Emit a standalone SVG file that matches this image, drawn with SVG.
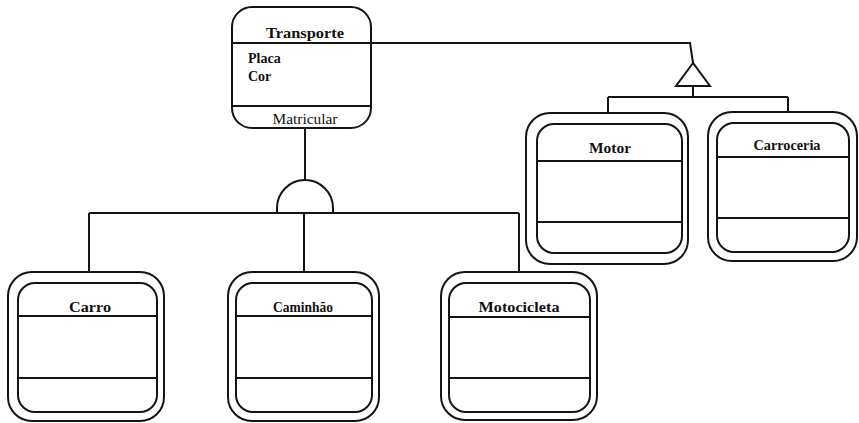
<svg xmlns="http://www.w3.org/2000/svg" width="859" height="423" viewBox="0 0 859 423">
  <style>
    .ln { fill: none; stroke: #141414; stroke-width: 2; }
    .box { fill: #fff; stroke: #141414; stroke-width: 2; }
    .title { font-family: "Liberation Serif", "Times New Roman", serif; font-weight: bold; font-size: 15px; fill: #111; text-anchor: middle; }
    .attr { font-family: "Liberation Serif", "Times New Roman", serif; font-weight: bold; font-size: 14px; fill: #111; }
    .op { font-family: "Liberation Serif", "Times New Roman", serif; font-size: 15px; fill: #111; text-anchor: middle; }
  </style>
  <rect width="859" height="423" fill="#fff"/>

  <!-- connectors -->
  <g id="connectors" class="ln">
    <!-- Transporte specialisation (dome) -->
    <line x1="305" y1="128" x2="305" y2="180"/>
    <path d="M277,213 L277,208 A28,28 0 0 1 333,208 L333,213"/>
    <line x1="89" y1="213" x2="519" y2="213"/>
    <line x1="89" y1="213" x2="89" y2="272"/>
    <line x1="304" y1="213" x2="304" y2="272"/>
    <line x1="519" y1="213" x2="519" y2="272"/>
    <!-- Transporte aggregation (triangle) -->
    <polyline points="371,43 690,43 693,63"/>
    <polygon points="693,63 676,86 710,86"/>
    <line x1="693" y1="86" x2="693" y2="97"/>
    <line x1="608" y1="97" x2="788" y2="97"/>
    <line x1="608" y1="97" x2="608" y2="113"/>
    <line x1="788" y1="97" x2="788" y2="112"/>
  </g>

  <!-- Transporte -->
  <g id="transporte">
    <rect class="box" x="232" y="7" width="139" height="121" rx="20"/>
    <line class="ln" x1="232" y1="43" x2="371" y2="43"/>
    <line class="ln" x1="232" y1="106" x2="371" y2="106"/>
    <text class="title" x="305" y="38" font-size="16" textLength="78" lengthAdjust="spacingAndGlyphs">Transporte</text>
    <text class="attr" x="248" y="63">Placa</text>
    <text class="attr" x="248" y="81">Cor</text>
    <text class="op" x="305" y="124" textLength="65" lengthAdjust="spacingAndGlyphs">Matricular</text>
  </g>

  <!-- Motor -->
  <g id="motor">
    <rect class="box" x="526" y="113" width="162" height="151" rx="24"/>
    <rect class="box" x="537" y="124" width="145" height="129" rx="17"/>
    <line class="ln" x1="537" y1="161" x2="682" y2="161"/>
    <line class="ln" x1="537" y1="222" x2="682" y2="222"/>
    <text class="title" x="610" y="153" textLength="42" lengthAdjust="spacingAndGlyphs">Motor</text>
  </g>

  <!-- Carroceria -->
  <g id="carroceria">
    <rect class="box" x="708" y="112" width="149" height="149" rx="24"/>
    <rect class="box" x="717" y="123" width="132" height="129" rx="17"/>
    <line class="ln" x1="717" y1="157" x2="849" y2="157"/>
    <line class="ln" x1="717" y1="218" x2="849" y2="218"/>
    <text class="title" x="787" y="150" textLength="67" lengthAdjust="spacingAndGlyphs">Carroceria</text>
  </g>

  <!-- Carro -->
  <g id="carro">
    <rect class="box" x="8" y="272" width="156" height="149" rx="24"/>
    <rect class="box" x="18" y="283" width="139" height="129" rx="17"/>
    <line class="ln" x1="18" y1="316" x2="157" y2="316"/>
    <line class="ln" x1="18" y1="378" x2="157" y2="378"/>
    <text class="title" x="90" y="312" textLength="42" lengthAdjust="spacingAndGlyphs">Carro</text>
  </g>

  <!-- Caminhão -->
  <g id="caminhao">
    <rect class="box" x="228" y="272" width="151" height="149" rx="24"/>
    <rect class="box" x="236" y="283" width="136" height="129" rx="17"/>
    <line class="ln" x1="236" y1="316" x2="372" y2="316"/>
    <line class="ln" x1="236" y1="378" x2="372" y2="378"/>
    <text class="title" x="303" y="312" textLength="60" lengthAdjust="spacingAndGlyphs">Caminhão</text>
  </g>

  <!-- Motocicleta -->
  <g id="motocicleta">
    <rect class="box" x="441" y="272" width="156" height="148" rx="24"/>
    <rect class="box" x="449" y="283" width="141" height="129" rx="17"/>
    <line class="ln" x1="449" y1="317" x2="590" y2="317"/>
    <line class="ln" x1="449" y1="378" x2="590" y2="378"/>
    <text class="title" x="519" y="312" textLength="81" lengthAdjust="spacingAndGlyphs">Motocicleta</text>
  </g>
</svg>
